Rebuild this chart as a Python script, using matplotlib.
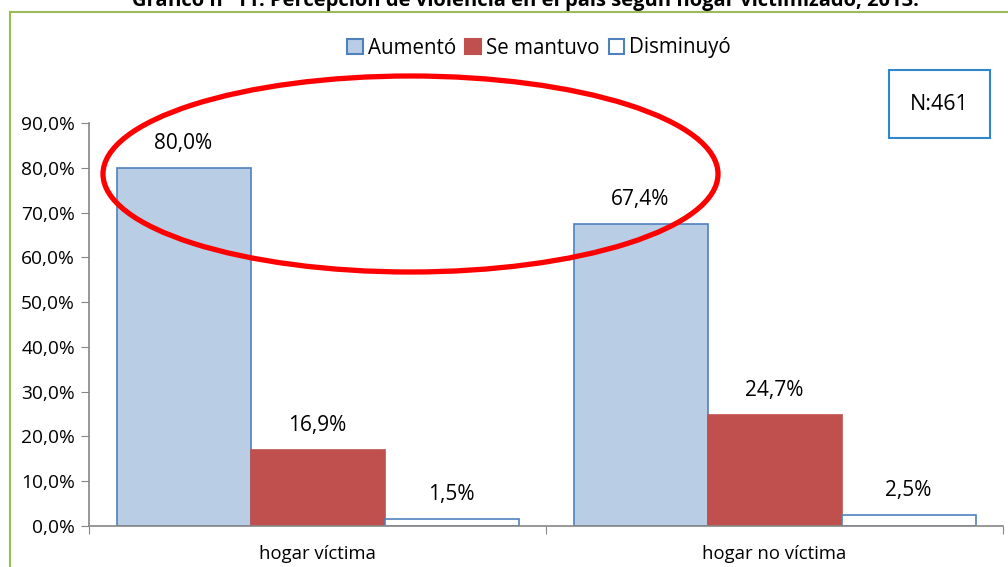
import matplotlib
matplotlib.use("Agg")
import matplotlib.pyplot as plt
from matplotlib.patches import Ellipse, Rectangle, Patch
from matplotlib.lines import Line2D
import numpy as np

plt.rcParams['font.family'] = ['Open Sans', 'DejaVu Sans']

categories = ["hogar víctima", "hogar no víctima"]
series_names = ["Aumentó", "Se mantuvo", "Disminuyó"]
aumento = [80.0, 67.4]
se_mantuvo = [16.9, 24.7]
disminuyo = [1.5, 2.5]
yticks = [0, 10, 20, 30, 40, 50, 60, 70, 80, 90]
title = "Gráfico nº 11: Percepción de violencia en el país según hogar victimizado, 2013."
n_text = "N:461"

W, H = 1008, 567
fig = plt.figure(figsize=(W/100, H/100), dpi=100)

# outer green frame
fig.add_artist(Line2D([10/W, 10/W], [0, 1-12/H], color="#9BBB59", lw=1.5, transform=fig.transFigure))
fig.add_artist(Line2D([10/W, 1], [1-12/H, 1-12/H], color="#9BBB59", lw=1.5, transform=fig.transFigure))

fig.text(525/W, 1-6/H, title, ha="center", va="baseline", fontsize=14.5, fontweight="bold",
         color="black")

ax = fig.add_axes([89/W, 1-526/H, (1003-89)/W, (526-123)/H])
x = np.arange(len(categories))
w = 134/457
series = [aumento, se_mantuvo, disminuyo]
faces = ["#B9CDE5", "#C0504D", "white"]
edges = ["#4F81BD", "#C0504D", "#4F81BD"]
for i, (vals, fc, ec) in enumerate(zip(series, faces, edges)):
    bars = ax.bar(x + (i-1)*w, vals, width=w, color=fc, edgecolor=ec, linewidth=1.2, label=series_names[i])
    for b, v in zip(bars, vals):
        ax.annotate(f"{v:.1f}%".replace(".", ","), (b.get_x()+b.get_width()/2, v),
                    xytext=(0, 14), textcoords="offset pixels", ha="center", va="bottom",
                    fontsize=15, color="black")

ax.set_xlim(-0.5, 1.5)
ax.set_ylim(0, 90)
ax.set_yticks(yticks)
ax.set_yticklabels([f"{t:.1f}%".replace(".", ",") for t in yticks], fontsize=13.8)
ax.set_xticks([-0.5, 0.5, 1.5], minor=False)
ax.set_xticklabels([])
ax.set_xticks(x, minor=True)
ax.set_xticklabels(categories, minor=True, fontsize=13.3)
ax.tick_params(axis="x", which="minor", length=0, pad=14)
ax.tick_params(axis="x", which="major", length=6, color="#868686", direction="out")
ax.tick_params(axis="y", length=6, color="#868686", direction="out", pad=4)
for s in ["top", "right"]:
    ax.spines[s].set_visible(False)
for s in ["left", "bottom"]:
    ax.spines[s].set_color("#868686")
    ax.spines[s].set_linewidth(1.2)

handles = [Patch(facecolor=f, edgecolor=e, linewidth=1.5) for f, e in zip(faces, edges)]
fig.legend(handles, series_names, loc="center", bbox_to_anchor=(539/W, 1-48/H), ncol=3,
           frameon=False, fontsize=14.8, handlelength=0.75, handleheight=0.75,
           handletextpad=0.25, columnspacing=0.45)

# N box
fig.add_artist(Rectangle((889/W, 1-138/H), 101/W, 68/H, transform=fig.transFigure,
                         facecolor="white", edgecolor="#2F86D1", lw=1.5))
fig.text(939.5/W, 1-104/H, n_text, ha="center", va="center", fontsize=15.5)

# red ellipse
fig.add_artist(Ellipse((410.5/W, 1-174/H), 615/W, 196/H, transform=fig.transFigure,
                       fill=False, edgecolor="#FF0000", lw=3.8, angle=0))

fig.savefig("out.png", dpi=100)
